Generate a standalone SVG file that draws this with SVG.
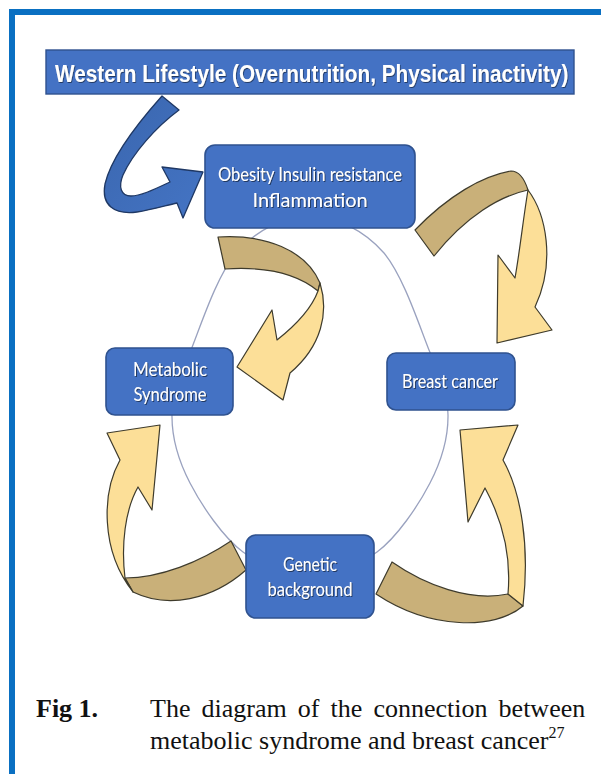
<svg xmlns="http://www.w3.org/2000/svg" width="601" height="774" viewBox="0 0 601 774">
<style>
.box{fill:#4472C4;stroke:#2F528F;stroke-width:1.6}
.btxt{font-family:Lato,"Open Sans","Liberation Sans",sans-serif;font-size:20px;fill:#ffffff;text-anchor:middle;filter:url(#sh)}
.tan{fill:#C9B079;stroke:#3E3B2C;stroke-width:1.2;stroke-linejoin:round}
.yel{fill:#FCDF98;stroke:#3E3B2C;stroke-width:1.2;stroke-linejoin:round}
.cap{font-family:"Liberation Serif","Times New Roman",serif;font-size:26px;fill:#111}
</style>
<defs>
<filter id="sh" x="-10%" y="-30%" width="120%" height="160%">
<feDropShadow dx="1" dy="1" stdDeviation="0.6" flood-color="#1a2a4a" flood-opacity="0.8"/>
</filter>
<linearGradient id="blueArrow" x1="0" y1="0" x2="1" y2="1">
<stop offset="0" stop-color="#3A66AE"/>
<stop offset="1" stop-color="#4474C4"/>
</linearGradient>
</defs>
<rect width="601" height="774" fill="#ffffff"/>
<path d="M12,774 V12 H601" fill="none" stroke="#0A70C2" stroke-width="6" stroke-linejoin="miter"/>

<g id="connectors">
<path id="cycle" d="M310,216 C335,216 364,230 384,253 C403,276 418,322 429,350 C440,377.5 447.7,392.8 448,415 C448.3,437.2 441.8,460.2 430,483 C418.2,505.8 397,537.2 377,552 C357,566.8 332.3,572 310,572 C287.7,572 263,566.8 243,552 C223,537.2 201.8,505.8 190,483 C178.2,460.2 171.7,437.2 172,415 C172.3,392.8 180,377.5 191,350 C202,322 217,276 236,253 C256,230 285,216 310,216 Z" fill="none" stroke="#9AA2BF" stroke-width="1.3"/>

<g id="arrow-western-obesity">
<path d="M162,96 C137,124 111,158 105,184 C101,205 114,215 137,212 C151,210 164,206 177,203 L183,218 L203,172 L162,167 L170,182 C155,189 141,196 131,196 C121,196 118,187 123,175 C133,153 156,127 179,110 Z" fill="url(#blueArrow)" stroke="#1F3864" stroke-width="1.3" stroke-linejoin="round"/>
</g>

<g id="arrow-obesity-breast">
<path class="tan" d="M415,230 C448,196 482,176 511,171 Q522,171 528,190 C500,196 466,216 434,256 Z"/>
<path class="yel" d="M528,190 C546,214 556,262 535,307 L552,330 L497,343 L498,255 L515,278 C520,250 523,220 528,190 Z"/>
</g>

<g id="arrow-obesity-metabolic">
<path class="tan" d="M218,237 C265,234 306,250 320,283 L318,291 C300,276 270,266 225,269 Z"/>
<path class="yel" d="M320,283 C329,312 322,346 290,373 L283,400 L237,367 L272,310 L277,340 C296,325 311,310 318,291 Z"/>
</g>

<g id="arrow-genetic-metabolic">
<path class="tan" d="M231,541 C200,562 160,578 125,578 L133,592 C168,609 212,600 246,570 Z"/>
<path class="yel" d="M125,578 C121,545 125,510 138,487 L152,510 L160,425 L107,433 L120,460 C102,492 100,550 133,592 Z"/>
</g>

<g id="arrow-genetic-breast">
<path class="tan" d="M392,562 C425,585 470,602 508,594 L523,606 C495,630 430,630 376,594 Z"/>
<path class="yel" d="M508,594 C511,560 505,525 485,488 L468,522 L460,430 L518,425 L503,460 C521,492 530,545 523,606 Z"/>
</g>
</g>

<g id="node-western">
<rect x="46" y="50" width="528" height="44" fill="#4472C4" stroke="#2F528F" stroke-width="1.4"/>
<text transform="translate(55,82) scale(0.72,1)" x="0" y="0" textLength="713" lengthAdjust="spacingAndGlyphs" font-family="Liberation Sans, Arial, sans-serif" font-weight="bold" font-size="23" fill="#ffffff" filter="url(#sh)">Western Lifestyle (Overnutrition, Physical inactivity)</text>
</g>

<g id="node-obesity">
<rect class="box" x="205" y="145" width="210" height="83" rx="10"/>
<text class="btxt" x="310" y="181" textLength="184" lengthAdjust="spacingAndGlyphs">Obesity Insulin resistance</text>
<text class="btxt" x="310" y="207" textLength="115" lengthAdjust="spacingAndGlyphs">Inflammation</text>
</g>

<g id="node-metabolic">
<rect class="box" x="106" y="348" width="127" height="67" rx="9"/>
<text class="btxt" x="170" y="376" textLength="74" lengthAdjust="spacingAndGlyphs">Metabolic</text>
<text class="btxt" x="170" y="401" textLength="73" lengthAdjust="spacingAndGlyphs">Syndrome</text>
</g>

<g id="node-breast">
<rect class="box" x="387" y="353" width="128" height="57" rx="9"/>
<text class="btxt" x="450" y="388" textLength="96" lengthAdjust="spacingAndGlyphs">Breast cancer</text>
</g>

<g id="node-genetic">
<rect class="box" x="246" y="535" width="128" height="83" rx="10"/>
<text class="btxt" x="310" y="571" textLength="54" lengthAdjust="spacingAndGlyphs">Genetic</text>
<text class="btxt" x="310" y="596" textLength="85" lengthAdjust="spacingAndGlyphs">background</text>
</g>

<g id="caption">
<text class="cap" x="36" y="717" font-weight="bold">Fig 1.</text>
<text class="cap" x="150" y="717" word-spacing="4.6">The diagram of the connection between</text>
<text class="cap" x="150" y="749">metabolic syndrome and breast cancer<tspan font-size="16" dy="-11">27</tspan></text>
</g>
</svg>
